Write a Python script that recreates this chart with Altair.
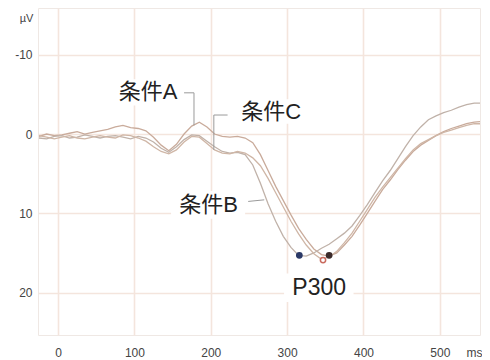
import altair as alt
import pandas as pd

# time axis (ms)
times = [-25, -15, -5, 5, 15, 25, 35, 45, 55, 65, 75, 85, 95, 105, 115, 125, 135, 145,
         155, 165, 175, 185, 195, 205, 215, 225, 235, 245, 255, 265, 275, 285, 295, 305,
         315, 325, 335, 345, 355, 365, 375, 385, 395, 405, 415, 425, 435, 445, 455, 465,
         475, 485, 495, 505, 515, 525, 535, 545, 555]

cond_a = [0.3, 0.0, 0.2, 0.1, -0.1, -0.3, 0.0, -0.2, -0.4, -0.6, -0.9, -1.1, -0.8, -0.7,
          -0.4, 0.4, 1.4, 2.1, 1.3, 0.0, -1.0, -1.5, -0.9, 0.0, 0.3, 0.4, 0.3, 0.5, 1.1,
          2.6, 4.6, 6.6, 8.4, 10.2, 11.9, 13.3, 14.5, 15.2, 15.4, 15.0, 14.0, 12.9, 11.5,
          10.0, 8.5, 7.0, 5.8, 4.5, 3.3, 2.2, 1.4, 0.8, 0.2, -0.3, -0.7, -1.0, -1.3, -1.5, -1.6]

cond_b = [0.5, 0.6, 0.3, 0.2, 0.5, 0.4, 0.1, 0.3, 0.5, 0.3, 0.2, 0.4, 0.6, 0.3, 0.5, 1.0,
          1.8, 2.3, 1.6, 0.7, 0.1, 0.2, 0.9, 1.6, 2.2, 2.4, 2.3, 2.6, 3.9, 6.2, 8.8, 11.0,
          12.9, 14.3, 15.3, 15.4, 15.0, 14.4, 13.9, 13.2, 12.5, 11.6, 10.3, 8.9, 7.4, 5.9,
          4.6, 3.1, 1.6, 0.2, -0.9, -1.8, -2.3, -2.7, -3.0, -3.4, -3.7, -3.9, -3.9]

cond_c = [0.2, 0.4, 0.6, 0.4, 0.2, 0.5, 0.6, 0.4, 0.2, 0.4, 0.5, 0.1, 0.2, 0.5, 0.9, 1.6,
          2.2, 2.5, 2.0, 1.0, 0.3, 0.4, 1.2, 2.0, 2.4, 2.5, 2.2, 2.4, 3.0, 4.0, 5.6, 7.4,
          9.2, 11.0, 12.6, 14.0, 15.1, 15.8, 15.5, 14.8, 13.7, 12.5, 11.0, 9.5, 8.0, 6.7,
          5.5, 4.3, 3.1, 2.0, 1.2, 0.7, 0.2, -0.2, -0.5, -0.8, -1.1, -1.3, -1.3]

conds = ["条件A", "条件B", "条件C"]
line_colors = ["#c9ab9b", "#c0b2a9", "#cfb6a6"]

# peak markers
peak_t = [316, 347, 355]
peak_v = [15.3, 15.9, 15.3]
peak_fill = ["#2b3a67", "#ffffff", "#3b2b2b"]
peak_stroke = ["#2b3a67", "#c96a5e", "#3b2b2b"]

# annotation labels
label_text = ["条件A", "条件C", "条件B", "P300"]
label_t = [118, 279, 197, 342]
label_v = [-5.3, -2.8, 8.9, 19.4]
label_size = [22, 22, 22, 23]

# white backing boxes behind labels
box_t1 = [64, 230, 148, 296]
box_t2 = [168, 326, 245, 387]
box_v1 = [-6.9, -4.4, 7.2, 17.6]
box_v2 = [-3.6, -1.3, 10.7, 21.2]

# connector polylines
conn_id = ["A", "A", "A", "C", "C", "C", "B", "B"]
conn_t = [165, 178, 178, 222, 204, 204, 249, 270]
conn_v = [-5.2, -5.2, -1.1, -2.4, -2.4, 2.0, 8.5, 8.3]
conn_order = [0, 1, 2, 0, 1, 2, 0, 1]

rows = []
for name, series in zip(conds, [cond_a, cond_b, cond_c]):
    for t, v in zip(times, series):
        rows.append({"t": t, "v": v, "cond": name})
waves = pd.DataFrame(rows)

peaks = pd.DataFrame({"t": peak_t, "v": peak_v, "fill": peak_fill, "stroke": peak_stroke})
labels = pd.DataFrame({"text": label_text, "t": label_t, "v": label_v, "fs": label_size})
boxes = pd.DataFrame({"t1": box_t1, "t2": box_t2, "v1": box_v1, "v2": box_v2})
conns = pd.DataFrame({"id": conn_id, "t": conn_t, "v": conn_v, "o": conn_order})

xscale = alt.Scale(domain=[-26.3, 552.6], nice=False, zero=False)
yscale = alt.Scale(domain=[-15.9, 25.35], reverse=True, nice=False, zero=False)

grid_color = "#f4e5dd"
axis_font = "Liberation Sans"

xaxis = alt.Axis(values=[0, 100, 200, 300, 400, 500], grid=True, gridColor=grid_color,
                 gridWidth=1.6, ticks=False, domain=False, labelFontSize=12,
                 labelColor="#444444", labelPadding=12, labelFont=axis_font,
                 title="ms", titleX=436, titleY=17, titleBaseline="middle",
                 titleAlign="center", titleFontWeight="normal", titleFontSize=12,
                 titleColor="#444444", titleFont=axis_font)
yaxis = alt.Axis(values=[-10, 0, 10, 20], grid=True, gridColor=grid_color, gridWidth=1.6,
                 ticks=False, domain=False, labelFontSize=12, labelColor="#444444",
                 labelPadding=6, labelFont=axis_font, labelExpr="'' + datum.value",
                 title="µV", titleAngle=0, titleX=-12, titleY=10, titleBaseline="middle",
                 titleAlign="center", titleFontWeight="normal", titleFontSize=11,
                 titleColor="#444444", titleFont=axis_font)

base_axes = alt.Chart(waves).mark_line(opacity=0).encode(
    x=alt.X("t:Q", scale=xscale, axis=xaxis),
    y=alt.Y("v:Q", scale=yscale, axis=yaxis),
    detail="cond:N",
)

box_layer = alt.Chart(boxes).mark_rect(color="white").encode(
    x=alt.X("t1:Q", scale=xscale), x2="t2:Q",
    y=alt.Y("v1:Q", scale=yscale), y2="v2:Q",
)

line_layer = alt.Chart(waves).mark_line(strokeWidth=1.3, clip=True).encode(
    x=alt.X("t:Q", scale=xscale),
    y=alt.Y("v:Q", scale=yscale),
    color=alt.Color("cond:N", scale=alt.Scale(domain=conds, range=line_colors), legend=None),
)

conn_layer = alt.Chart(conns).mark_line(strokeWidth=1, color="#9a9a9a").encode(
    x=alt.X("t:Q", scale=xscale),
    y=alt.Y("v:Q", scale=yscale),
    detail="id:N",
    order="o:Q",
)

peak_layer = alt.Chart(peaks).mark_point(filled=False, size=28, strokeWidth=1.5, opacity=1).encode(
    x=alt.X("t:Q", scale=xscale),
    y=alt.Y("v:Q", scale=yscale),
    fill=alt.Fill("fill:N", scale=None),
    stroke=alt.Stroke("stroke:N", scale=None),
)

text_layer = alt.Chart(labels).mark_text(font="Liberation Sans, Noto Sans CJK JP",
                                         color="#222222", align="center",
                                         baseline="middle").encode(
    x=alt.X("t:Q", scale=xscale),
    y=alt.Y("v:Q", scale=yscale),
    text="text:N",
    size=alt.Size("fs:Q", scale=None),
)

chart = alt.layer(base_axes, box_layer, line_layer, conn_layer, peak_layer, text_layer).properties(
    width=442, height=327,
    autosize=alt.AutoSizeParams(type="none"),
    padding={"left": 30, "top": 0, "right": 2, "bottom": 25},
    background="white",
).configure_view(stroke="#efe8e4", strokeWidth=1)

chart.save("out.html", embed_options={"renderer": "svg", "actions": False})
